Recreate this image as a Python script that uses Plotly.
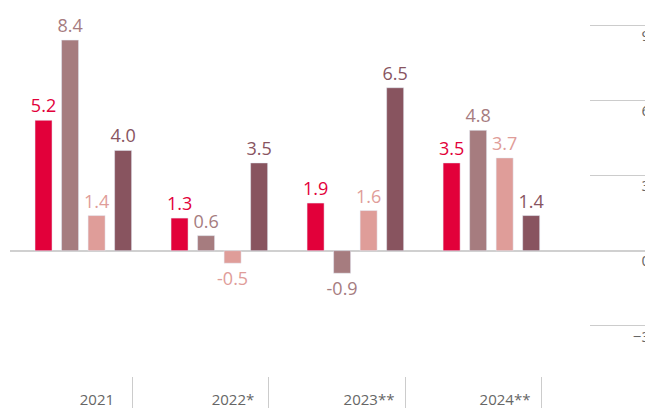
import plotly.graph_objects as go

# data
years = ["2021", "2022*", "2023**", "2024**"]
series_a = [5.2, 1.3, 1.9, 3.5]
series_b = [8.4, 0.6, -0.9, 4.8]
series_c = [1.4, -0.5, 1.6, 3.7]
series_d = [4.0, 3.5, 6.5, 1.4]
y_ticks = [-3, 0, 3, 6, 9]

colors = ["#E2003A", "#A67C7F", "#DF9D99", "#88545F"]
offsets = [-0.22, -0.025, 0.17, 0.365]

fig = go.Figure()

for vals, col, off in zip([series_a, series_b, series_c, series_d], colors, offsets):
    fig.add_trace(go.Bar(
        x=years,
        y=vals,
        marker_color=col,
        width=0.125,
        offset=off,
        text=[f"{v:.1f}" for v in vals],
        textposition="outside",
        constraintext="none",
        textfont=dict(color=col, size=18, family="Open Sans"),
        cliponaxis=False,
        showlegend=False,
        hoverinfo="skip",
    ))

# invisible trace so the small right-hand gridline panel exists
fig.add_trace(go.Scatter(x=[0.5], y=[0], xaxis="x2", yaxis="y2", mode="markers",
                         marker=dict(opacity=0), showlegend=False, hoverinfo="skip"))

split = 580 / 635  # where the gridline panel starts

fig.update_layout(
    width=645,
    height=408,
    margin=dict(l=10, r=0, t=0, b=32),
    paper_bgcolor="white",
    plot_bgcolor="white",
    font=dict(family="Open Sans", size=15, color="#666666"),
    barmode="overlay",
    xaxis=dict(
        type="category",
        domain=[0, split],
        automargin=False,
        range=[-0.404, 3.86],
        tickson="boundaries",
        ticks="outside",
        ticklen=32,
        tickcolor="#cccccc",
        tickwidth=1,
        showline=False,
        showgrid=False,
        ticklabelshift=32,
        ticklabelstandoff=13,
        tickfont=dict(size=15, color="#666666"),
    ),
    yaxis=dict(
        automargin=False,
        range=[-5, 10],
        showgrid=False,
        showticklabels=False,
        zeroline=True,
        zerolinecolor="#d0d0d0",
        zerolinewidth=2,
    ),
    xaxis2=dict(domain=[split, 1], anchor="y2", visible=False, range=[0, 1],
                automargin=False),
    yaxis2=dict(
        anchor="x2",
        side="left",
        automargin=False,
        range=[-5, 10],
        tickvals=y_ticks,
        showgrid=True,
        gridcolor="#cccccc",
        gridwidth=1,
        zeroline=True,
        zerolinecolor="#d0d0d0",
        zerolinewidth=2,
        ticklabelposition="outside bottom",
        ticklabelstandoff=-61,
        tickfont=dict(size=15, color="#666666"),
    ),
)

fig.write_html("out.html", config={"displayModeBar": False},
               post_script="document.body.style.margin = '0';")
